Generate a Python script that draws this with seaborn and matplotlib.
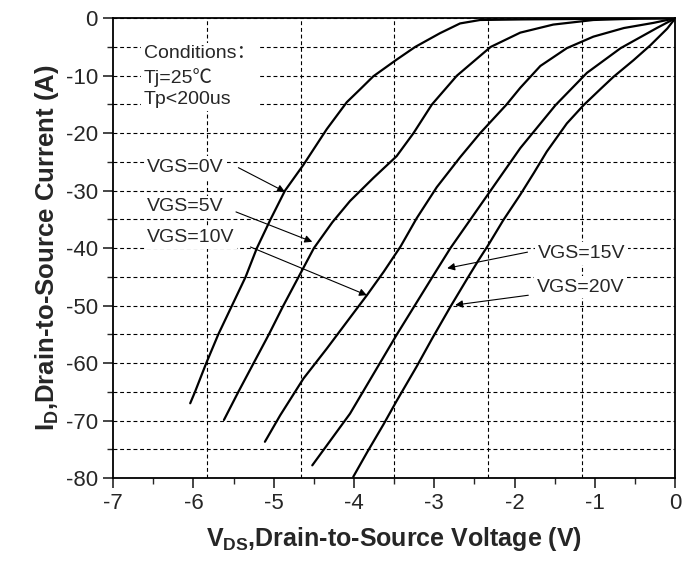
import numpy as np
import pandas as pd
import matplotlib
matplotlib.use('Agg')
import matplotlib.pyplot as plt
import seaborn as sns

# ---- data ----
vgs0_v = [-6.04, -5.98, -5.84, -5.69, -5.52, -5.35, -5.21, -5.04, -4.86, -4.63,
          -4.34, -4.09, -3.92, -3.76, -3.47, -3.24, -2.93, -2.68, -2.43, -1.90,
          -1.00, 0.0]
vgs0_i = [-67.0, -65.0, -60.0, -55.0, -50.0, -45.0, -40.0, -35.0, -30.0, -25.5,
          -19.3, -14.6, -12.3, -10.1, -7.2, -5.0, -2.6, -0.9, -0.3, -0.2,
          -0.1, 0.0]

vgs5_v = [-5.62, -5.44, -5.25, -5.06, -4.88, -4.69, -4.50, -4.27, -4.05, -3.76,
          -3.47, -3.26, -3.03, -2.72, -2.30, -1.93, -1.52, -1.02, -0.44, 0.0]
vgs5_i = [-69.9, -65.0, -60.0, -55.0, -50.0, -45.0, -40.0, -35.5, -31.8, -27.8,
          -24.0, -20.0, -15.0, -10.0, -5.0, -2.5, -1.1, -0.3, -0.05, 0.0]

vgs10_v = [-5.11, -4.92, -4.63, -4.34, -4.05, -3.84, -3.63, -3.42, -3.22, -2.97,
           -2.68, -2.43, -2.10, -1.93, -1.68, -1.35, -1.02, -0.64, -0.27, 0.0]
vgs10_i = [-73.7, -69.1, -62.7, -57.5, -52.1, -48.2, -44.1, -39.7, -34.8, -29.4,
           -24.2, -20.0, -15.0, -12.1, -8.3, -5.2, -3.2, -1.7, -0.8, 0.0]

vgs15_v = [-4.52, -4.05, -3.47, -3.01, -2.80, -2.34, -1.93, -1.49, -1.10, -0.68,
           -0.23, 0.0]
vgs15_i = [-77.8, -68.8, -55.1, -44.7, -40.0, -30.8, -22.6, -15.1, -9.5, -5.2,
           -1.7, 0.0]

vgs20_v = [-4.01, -3.84, -3.63, -3.47, -3.22, -3.03, -2.80, -2.59, -2.45, -2.33,
           -2.14, -1.93, -1.76, -1.60, -1.35, -1.14, -0.93, -0.77, -0.52, -0.31,
           -0.10, 0.0]
vgs20_i = [-79.8, -75.6, -70.6, -66.6, -60.6, -55.8, -50.2, -45.3, -42.1, -39.5,
           -35.1, -30.7, -26.9, -23.2, -18.3, -15.1, -12.3, -10.2, -7.3, -4.7,
           -1.8, 0.0]

curves = [('VGS=0V', vgs0_v, vgs0_i), ('VGS=5V', vgs5_v, vgs5_i),
          ('VGS=10V', vgs10_v, vgs10_i), ('VGS=15V', vgs15_v, vgs15_i),
          ('VGS=20V', vgs20_v, vgs20_i)]

# label text positions and arrow (start, end) in data units
label_pos = {'VGS=0V': (-6.575, -26.0), 'VGS=5V': (-6.575, -32.8),
             'VGS=10V': (-6.575, -38.2), 'VGS=15V': (-1.71, -40.9),
             'VGS=20V': (-1.72, -46.8)}
arrow_pts = {'VGS=0V': ((-5.44, -26.0), (-4.86, -30.2)),
             'VGS=5V': ((-5.47, -33.7), (-4.52, -38.9)),
             'VGS=10V': ((-5.29, -39.8), (-3.84, -48.2)),
             'VGS=15V': ((-1.84, -40.7), (-2.84, -43.5)),
             'VGS=20V': ((-1.83, -48.2), (-2.74, -49.9))}

conditions = 'Conditions：\nTj=25℃\nTp<200us'
x_ticks = list(range(-7, 1))
y_ticks = list(range(-80, 1, 10))
v_grid = [-35 / 6, -28 / 6, -21 / 6, -14 / 6, -7 / 6]

rows = []
for name, v, i in curves:
    for a, b in zip(v, i):
        rows.append((name, a, b))
df = pd.DataFrame(rows, columns=['curve', 'Vds', 'Id'])

# ---- style ----
sns.set_style('white')
plt.rcParams['font.family'] = ['Liberation Sans', 'Noto Sans CJK SC', 'DejaVu Sans']
plt.rcParams['axes.unicode_minus'] = False
plt.rcParams['mathtext.fontset'] = 'custom'
plt.rcParams['mathtext.rm'] = 'Liberation Sans'
plt.rcParams['mathtext.bf'] = 'Liberation Sans:bold'

fig = plt.figure(figsize=(6.94, 5.62), dpi=100)
ax = fig.add_axes([0.163, 0.1495, 0.81, 0.818])

grid_kw = dict(color='black', lw=0.8, ls=(0, (3.5, 2.5)), zorder=0)
for xv in v_grid:
    ax.axvline(xv, **grid_kw)
ax.set_yticks(np.arange(-75, 0, 5), minor=True)
ax.yaxis.grid(True, which='both', **grid_kw)

for name, v, i in curves:
    sub = df[df['curve'] == name]
    sns.lineplot(data=sub, x='Vds', y='Id', color='black', lw=1.6,
                 estimator=None, sort=False, ax=ax, zorder=3)

txt_kw = dict(fontsize=14, ha='left', va='center', zorder=4,
              bbox=dict(facecolor='white', edgecolor='none', pad=2))
ax.text(-6.62, -10.2, conditions, linespacing=1.35, **txt_kw)
for name in label_pos:
    ax.text(*label_pos[name], name, **txt_kw)
    start, end = arrow_pts[name]
    ax.annotate('', xy=end, xytext=start, zorder=5,
                arrowprops=dict(arrowstyle='-|>', color='black', lw=0.8,
                                mutation_scale=11, shrinkA=0, shrinkB=0))

ax.set_xlim(-7, 0)
ax.set_ylim(-80, 0)
ax.set_xticks(x_ticks)
ax.set_yticks(y_ticks)
ax.set_xticks(np.arange(-6.5, 0, 1), minor=True)
ax.tick_params(which='major', direction='out', length=7, width=1.2,
               labelsize=16, bottom=True, left=True, pad=4)
ax.tick_params(which='minor', direction='out', length=4, width=1.0,
               bottom=True, left=True)
for s in ax.spines.values():
    s.set_linewidth(1.3)
    s.set_color('black')

ax.set_xlabel(r'$\mathbf{V}_{\mathbf{DS}}$,Drain-to-Source Voltage (V)',
              fontsize=18, fontweight='bold', labelpad=8)
ax.set_ylabel(r'$\mathbf{I}_{\mathbf{D}}$,Drain-to-Source Current (A)',
              fontsize=18.5, fontweight='bold', labelpad=3)

fig.savefig('out.png', dpi=100)
